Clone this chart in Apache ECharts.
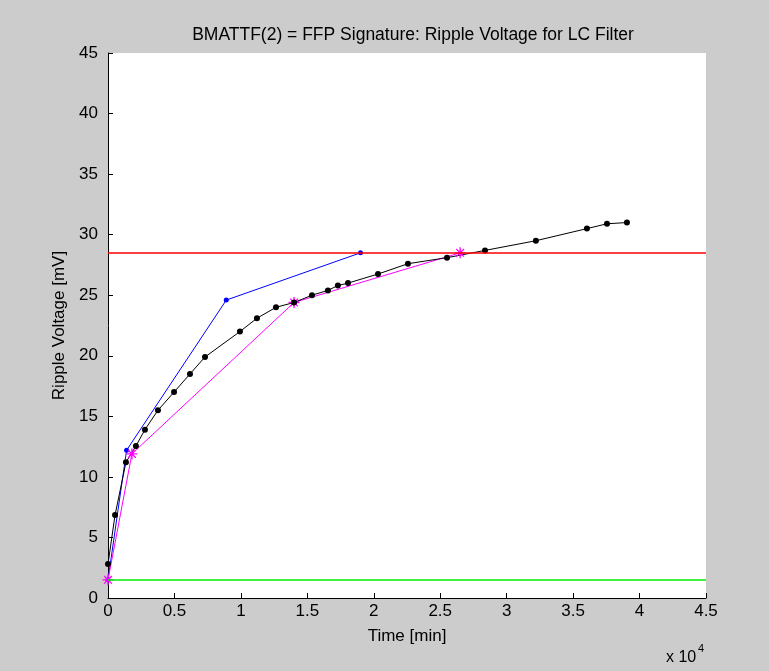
<!DOCTYPE html>
<html><head><meta charset="utf-8">
<script src="https://cdn.jsdelivr.net/npm/echarts@6/dist/echarts.min.js"></script>
<style>html,body{margin:0;padding:0;background:#cccccc;}#c{width:769px;height:671px;}</style>
</head><body><div id="c"></div>
<script>
const blackX = [0,530,1350,2100,2780,3760,4970,6170,7300,9930,11210,12640,14000,15350,16550,17300,18060,20320,22570,25510,28370,32200,36040,37550,39050];
const blackY = [2.8,6.85,11.2,12.55,13.9,15.5,17.0,18.5,19.9,22.0,23.1,24.0,24.4,25.0,25.4,25.8,26.0,26.75,27.6,28.1,28.7,29.5,30.5,30.9,31.0];
const blueX = [0,1400,8900,19000];
const blueY = [1.5,12.2,24.6,28.5];
const magentaX = [0,1800,14000,26500];
const magentaY = [1.5,11.9,24.4,28.5];
const upperLimit = 28.5;
const lowerLimit = 1.5;
const xTicks = [0,5000,10000,15000,20000,25000,30000,35000,40000,45000];
const yTicks = [0,5,10,15,20,25,30,35,40,45];

const FONT = "'Liberation Sans Narrow','Arial Narrow','Liberation Sans',sans-serif";
const zip = (xs, ys) => xs.map((x, i) => [x, ys[i]]);
const star = 'path://M-0.6,-5L0.6,-5L0.6,5L-0.6,5Z M-5,-0.6L5,-0.6L5,0.6L-5,0.6Z M-3.9,-3.1L-3.1,-3.9L3.9,3.1L3.1,3.9Z M3.1,-3.9L3.9,-3.1L-3.1,3.9L-3.9,3.1Z';

const chart = echarts.init(document.getElementById('c'), null, {renderer: 'canvas'});
chart.setOption({
  backgroundColor: '#cccccc',
  animation: false,
  title: {
    text: 'BMATTF(2) = FFP Signature: Ripple Voltage for LC Filter',
    left: 408, top: 21, textAlign: 'center',
    textStyle: {fontFamily: FONT, fontSize: 17.5, fontWeight: 'normal', color: '#000'}
  },
  grid: {left: 108, right: 63, top: 53, bottom: 73, show: true, backgroundColor: '#ffffff', borderWidth: 0},
  xAxis: {
    type: 'value', min: 0, max: 45000, interval: 5000,
    name: 'Time [min]', nameLocation: 'middle', nameGap: 30,
    nameTextStyle: {fontFamily: FONT, fontSize: 17, color: '#000'},
    axisLine: {show: true, onZero: false, lineStyle: {color: '#000', width: 1}},
    axisTick: {show: true, inside: true, length: 5, lineStyle: {color: '#000'}},
    axisLabel: {fontFamily: FONT, fontSize: 17, color: '#000', margin: 5,
      formatter: v => xTicks.includes(v) ? String(v / 10000) : ''},
    splitLine: {show: false}
  },
  yAxis: {
    type: 'value', min: 0, max: 45, interval: 5,
    name: 'Ripple Voltage [mV]', nameLocation: 'middle', nameGap: 36, nameRotate: 90,
    nameTextStyle: {fontFamily: FONT, fontSize: 17, color: '#000'},
    axisLine: {show: true, onZero: false, lineStyle: {color: '#000', width: 1}},
    axisTick: {show: true, inside: true, length: 5, lineStyle: {color: '#000'}},
    axisLabel: {fontFamily: FONT, fontSize: 17, color: '#000', margin: 10,
      formatter: v => yTicks.includes(v) ? String(v) : ''},
    splitLine: {show: false}
  },
  graphic: [
    {type: 'text', left: 666, top: 650, style: {text: 'x 10', fill: '#000', fontFamily: FONT, fontSize: 16}},
    {type: 'text', left: 698, top: 643, style: {text: '4', fill: '#000', fontFamily: FONT, fontSize: 11}}
  ],
  series: [
    {
      type: 'line', data: [], silent: true,
      markLine: {
        silent: true, symbol: 'none', label: {show: false},
        data: [
          {yAxis: upperLimit, lineStyle: {color: '#ff0000', width: 1.5, type: 'solid'}},
          {yAxis: lowerLimit, lineStyle: {color: '#00ee00', width: 1.5, type: 'solid'}}
        ]
      }
    },
    {
      name: 'blue', type: 'line', data: zip(blueX, blueY),
      lineStyle: {color: '#0000ff', width: 1}, itemStyle: {color: '#0000ff'},
      symbol: 'circle', symbolSize: 5, showAllSymbol: true
    },
    {
      name: 'magenta', type: 'line', data: zip(magentaX, magentaY),
      lineStyle: {color: '#ff00ff', width: 1}, itemStyle: {color: '#ff00ff'},
      symbol: star, symbolSize: 11, showAllSymbol: true
    },
    {
      name: 'black', type: 'line', data: zip(blackX, blackY),
      lineStyle: {color: '#000000', width: 1}, itemStyle: {color: '#000000'},
      symbol: 'circle', symbolSize: 6, showAllSymbol: true
    }
  ]
});
</script></body></html>
